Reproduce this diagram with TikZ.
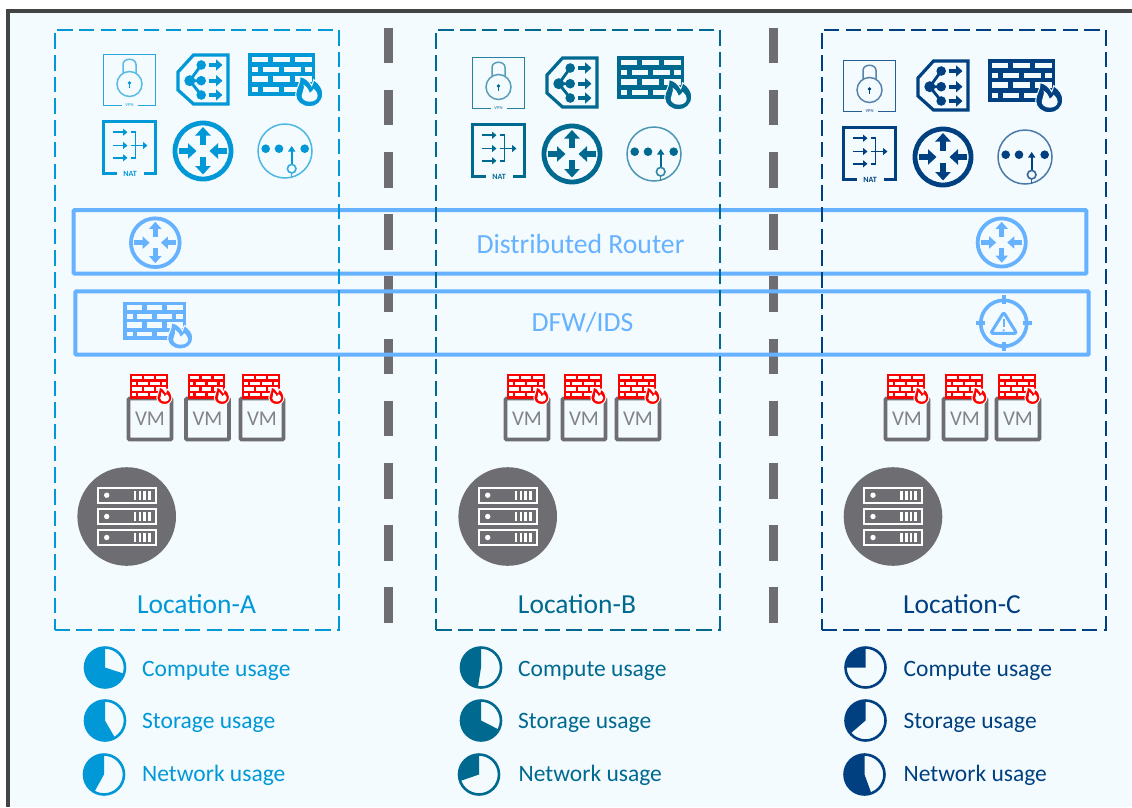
\documentclass[tikz,border=0pt]{standalone}
\usepackage{fontspec}
\setmainfont{Carlito}
\usetikzlibrary{arrows.meta}
\definecolor{pagebg}{HTML}{F3FBFF}
\definecolor{frameC}{HTML}{444444}
\definecolor{colA}{HTML}{0098D6}
\definecolor{colB}{HTML}{00698F}
\definecolor{colC}{HTML}{004080}
\definecolor{bandC}{HTML}{66B2FF}
\definecolor{greyC}{HTML}{6D6D72}
\definecolor{redC}{HTML}{FF0000}
\tikzset{
  divider/.style={draw=greyC,line width=9pt,dash pattern=on 35.6pt off 26.6pt},
  locbox/.style={draw=#1,line width=2pt,dash pattern=on 15.5pt off 6.2pt,anchor=north west,minimum width=284pt,minimum height=600pt,inner sep=0pt,outer sep=0pt},
  bandbox/.style={draw=bandC,line width=4pt,rounded corners=1pt,anchor=north west,inner sep=0pt,outer sep=0pt},
  bandtext/.style={text=bandC,font=\fontsize{27.7}{28}\selectfont},
  loctext/.style={text=#1,font=\fontsize{27.5}{28}\selectfont},
  usetext/.style={text=#1,font=\fontsize{23.5}{24}\selectfont,anchor=west,inner sep=0pt},
  vmbox/.style={draw=greyC,line width=3.6pt,rounded corners=1pt,text=greyC!85!white,minimum width=43pt,minimum height=41pt,inner sep=0pt,outer sep=0pt,font=\fontsize{21}{21}\selectfont},
  servernode/.style={circle,fill=greyC,minimum size=98.6pt,inner sep=0pt,outer sep=0pt},
  arrTag/.style={line width=3.6pt,-{Triangle[length=6.5pt,width=11pt]}},
  arrBig/.style={line width=6.5pt,-{Triangle[length=8.5pt,width=15pt]}},
  arrMid/.style={line width=5pt,-{Triangle[length=7pt,width=12pt]}},
  arrNat/.style={line width=1.9pt,-{Triangle[length=4.5pt,width=7pt]}},
  arrMesh/.style={line width=1.7pt,-{Triangle[length=5.5pt,width=7pt]}},
}
% firewall: #1 shift, #2 xscale, #3 yscale, #4 colour, #5 slot colour
\newcommand\firewallicon[5]{%
\begin{scope}[shift={(#1)},xscale=#2,yscale=#3]
  \fill[#4] (0,0) rectangle (67.5,43.5);
  \foreach \ya/\yb in {4/9.7,23.3/29.7}{
    \foreach \xa/\xb in {4/20.7,25.6/42.3,47/64}{\fill[#5] (\xa,\ya) rectangle (\xb,\yb);}}
  \foreach \ya/\yb in {14/19.6,34/39.6}{
    \foreach \xa/\xb in {4/10.7,15/31.7,36.3/53,57.3/64}{\fill[#5] (\xa,\ya) rectangle (\xb,\yb);}}
  \filldraw[fill=#4,draw=#5,line width=1pt] (52,24) .. controls (57,24) and (62,29) .. (64,33) .. controls (65,31) and (65.5,29) .. (66,27) .. controls (72,31) and (75,36) .. (75,41) .. controls (75,49) and (69,54) .. (62,54) .. controls (54,54) and (48,49) .. (48,42) .. controls (48,35) and (53,32) .. (52,24) -- cycle;
  \fill[#5] (56,32) .. controls (60,35) and (61,37) .. (62,40) .. controls (64,39) and (65,38) .. (66,36) .. controls (69,39) and (70,41) .. (70,43) .. controls (70,47) and (66,49) .. (62,49) .. controls (57,49) and (54,46) .. (54,43) .. controls (54,39) and (57,37) .. (56,32) -- cycle;
\end{scope}}
% router: #1 centre, #2 scale, #3 colour, #4 ring width, #5 arrow style
\newcommand\routericon[5]{%
\begin{scope}[shift={(#1)},scale=#2]
  \draw[#3,line width=#4] (0,0) circle[radius=28pt];
  \draw[#3,#5] (0,-6.5) -- (0,-24);
  \draw[#3,#5] (0,6) -- (0,23.5);
  \draw[#3,#5] (-24,0) -- (-6.5,0);
  \draw[#3,#5] (24,0) -- (6.5,0);
\end{scope}}
% top icon group: #1 shift, #2 colour
\newcommand\topicons[2]{%
\begin{scope}[shift={(#1)}]
  \begin{scope}[shift={(103.5,54.5)}]
    \draw[#2!85!white,line width=1.4pt] (18,51) -- (0,51) -- (0,0) -- (52,0) -- (52,51) -- (34,51);
    \draw[#2!65!white,line width=1.5pt] (26,29.5) circle[radius=12.5pt];
    \draw[#2!65!white,line width=1.5pt] (19.5,19) -- (19.5,10) .. controls (19.5,3) and (32.5,3) .. (32.5,10) -- (32.5,19);
    \fill[#2] (26,28.5) circle[radius=1.8pt];
    \draw[#2,line width=1.2pt] (26,29) -- (26,33);
    \node[inner sep=0pt,text=#2!70!white,font=\bfseries\fontsize{4.5}{5}\selectfont] (vpn) at (26,51) {VPN};
  \end{scope}
  \begin{scope}[shift={(177.5,54)}]
    \draw[#2,line width=3.2pt,line join=miter] (16,1) -- (50.5,1) -- (50.5,50) -- (16,50) -- (0.5,36) -- (0.5,18) -- cycle;
    \fill[#2] (12.3,26.7) circle[radius=5.5pt] (23.7,11) circle[radius=4.8pt] (23.7,26.7) circle[radius=4.8pt] (23.7,41) circle[radius=4.8pt];
    \draw[#2,line width=2.8pt] (23.7,11) -- (12.3,26.7) -- (23.7,41) (12.3,26.7) -- (23.7,26.7);
    \draw[#2,arrTag] (31,11) -- (45,11);
    \draw[#2,arrTag] (31,26.7) -- (45,26.7);
    \draw[#2,arrTag] (31,41) -- (45,41);
  \end{scope}
  \firewallicon{247.7,52.7}{1}{1}{#2}{pagebg}
  \begin{scope}[shift={(103.5,121.5)}]
    \draw[#2,line width=2.2pt] (13,52) -- (0,52) -- (0,0) -- (52,0) -- (52,52) -- (40,52);
    \draw[#2,arrNat] (9,10.7) -- (24,10.7);
    \draw[#2,arrNat] (9,24) -- (24,24);
    \draw[#2,arrNat] (9,36.3) -- (24,36.3);
    \draw[#2,line width=1.9pt] (27,10.7) -- (32,10.7) -- (32,36.3) -- (27,36.3);
    \draw[#2,arrNat] (27,24) -- (44,24);
    \node[inner sep=0pt,text=#2,font=\bfseries\fontsize{8}{8}\selectfont] (nat) at (26.5,52) {NAT};
  \end{scope}
  \routericon{203,151}{1}{#2}{4.8pt}{arrBig}
  \begin{scope}[shift={(285,151)}]
    \draw[#2!70!white,line width=1.5pt] (0,0) circle[radius=27pt];
    \fill[#2] (-19.3,-2.3) circle[radius=4.3pt] (-6,-2.3) circle[radius=4.3pt] (19.7,-2.3) circle[radius=4.3pt];
    \draw[#2,arrMesh] (6.7,13) -- (6.7,-5);
    \draw[#2!80!white,line width=1.6pt] (6.7,17.7) circle[radius=4.3pt];
    \draw[#2!80!white,line width=1.4pt] (6.7,22) -- (6.7,27);
  \end{scope}
\end{scope}}
% server rack: #1 centre
\newcommand\racks[1]{%
\begin{scope}[shift={(#1)}]
  \foreach \ry in {-21.3,0,21}{
    \draw[white,line width=1.8pt] (-29,\ry-7.6) rectangle (29,\ry+7.6);
    \fill[white] (-20,\ry) circle[radius=2.7pt];
    \foreach \rx in {8.3,13.3,18,22.7}{\fill[white] (\rx-1.3,\ry-4.5) rectangle (\rx+1.3,\ry+4.5);}
  }
\end{scope}}
% pie: #1 centre, #2 colour, #3 end angle
\newcommand\usagepie[3]{%
\begin{scope}[shift={(#1)},y=1pt]
  \draw[#2,line width=2.6pt] (0,0) circle[radius=20pt];
  \fill[#2] (0,0) -- (90:20pt) arc[start angle=90,end angle=#3,radius=20pt] -- cycle;
\end{scope}}
\begin{document}
\begin{tikzpicture}[x=1pt,y=-1pt]
\useasboundingbox (0,0) rectangle (1132,807);
\fill[white] (0,0) rectangle (1132,807);
\fill[pagebg] (8,11) rectangle (1132,807);
\draw[frameC,line width=4pt] (8,807) -- (8,11) -- (1132,11);

% dividers
\coordinate (d1top) at (388.5,27.5);
\coordinate (d1bot) at (388.5,623.5);
\coordinate (d2top) at (773.5,27.5);
\coordinate (d2bot) at (773.5,623.5);
\draw[divider] (d1top) -- (d1bot);
\draw[divider] (d2top) -- (d2bot);

% bands
\node[bandbox,minimum width=1012.6pt,minimum height=63.7pt] (bandR) at (73.7,210) {};
\node[bandbox,minimum width=1013.4pt,minimum height=63.4pt] (bandF) at (75.3,291.3) {};
\node[bandtext] (bandRt) at (580.5,243.5) {Distributed Router};
\node[bandtext] (bandFt) at (582.5,322) {DFW/IDS};

% location boxes
\node[locbox=colA] (locA) at (54.7,29.5) {};
\node[locbox=colB] (locB) at (436,29.5) {};
\node[locbox=colC] (locC) at (821.5,29.5) {};
\node[loctext=colA] (locAt) at (196.5,604) {Location-A};
\node[loctext=colB] (locBt) at (577,604.5) {Location-B};
\node[loctext=colC] (locCt) at (962,604.5) {Location-C};

% top icons
\topicons{0,0}{colA}
\topicons{369,3}{colB}
\topicons{740,6}{colC}

% band icons
\routericon{155.3,242.7}{0.87}{bandC}{3.8pt}{arrMid}
\routericon{1001.7,242.5}{0.86}{bandC}{3.8pt}{arrMid}
\firewallicon{123,302}{0.93}{0.87}{bandC}{pagebg}
\begin{scope}[shift={(1003.7,323.3)}]
  \draw[bandC,line width=3.6pt] (0,0) circle[radius=23pt];
  \draw[bandC,line width=4pt] (0,-28) -- (0,-19) (0,19) -- (0,28) (-28,0) -- (-19,0) (19,0) -- (28,0);
  \draw[bandC,line width=3pt,line join=round,rounded corners=2pt] (0,-11) -- (-13,10) -- (13,10) -- cycle;
  \draw[bandC,line width=2pt] (0,-4) -- (0,4);
  \fill[bandC] (0,7) circle[radius=1.2pt];
\end{scope}

% VMs
\foreach \n/\vx in {a/150,b/207.5,c/262,d/527,e/584,f/638,g/907,h/965,i/1018}{
  \node[vmbox] (vm\n) at (\vx,419) {VM};
  \firewallicon{\vx-20,373.5}{0.56}{0.575}{redC}{white}
}

% servers
\node[servernode] (srvA) at (126.7,516.5) {};
\node[servernode] (srvB) at (507.7,516.5) {};
\node[servernode] (srvC) at (893,516.5) {};
\racks{126.7,516.5}
\racks{507.7,516.5}
\racks{893,516.5}

% usage legend
\usagepie{105,667.5}{colA}{342}
\usagepie{105,720.5}{colA}{300}
\usagepie{104,774.5}{colA}{241}
\usagepie{481,667.5}{colB}{261}
\usagepie{481,720.5}{colB}{333}
\usagepie{479,774.5}{colB}{199}
\usagepie{865.5,667.5}{colC}{180}
\usagepie{865.5,720.5}{colC}{221}
\usagepie{864.5,774.5}{colC}{290}
\node[usetext=colA] (uA1) at (142,671) {Compute usage};
\node[usetext=colA] (uA2) at (142,723) {Storage usage};
\node[usetext=colA] (uA3) at (142,775.5) {Network usage};
\node[usetext=colB] (uB1) at (518,671) {Compute usage};
\node[usetext=colB] (uB2) at (518,723) {Storage usage};
\node[usetext=colB] (uB3) at (518.5,775.5) {Network usage};
\node[usetext=colC] (uC1) at (903.5,671) {Compute usage};
\node[usetext=colC] (uC2) at (903.5,723) {Storage usage};
\node[usetext=colC] (uC3) at (903.5,775.5) {Network usage};
\end{tikzpicture}
\end{document}
